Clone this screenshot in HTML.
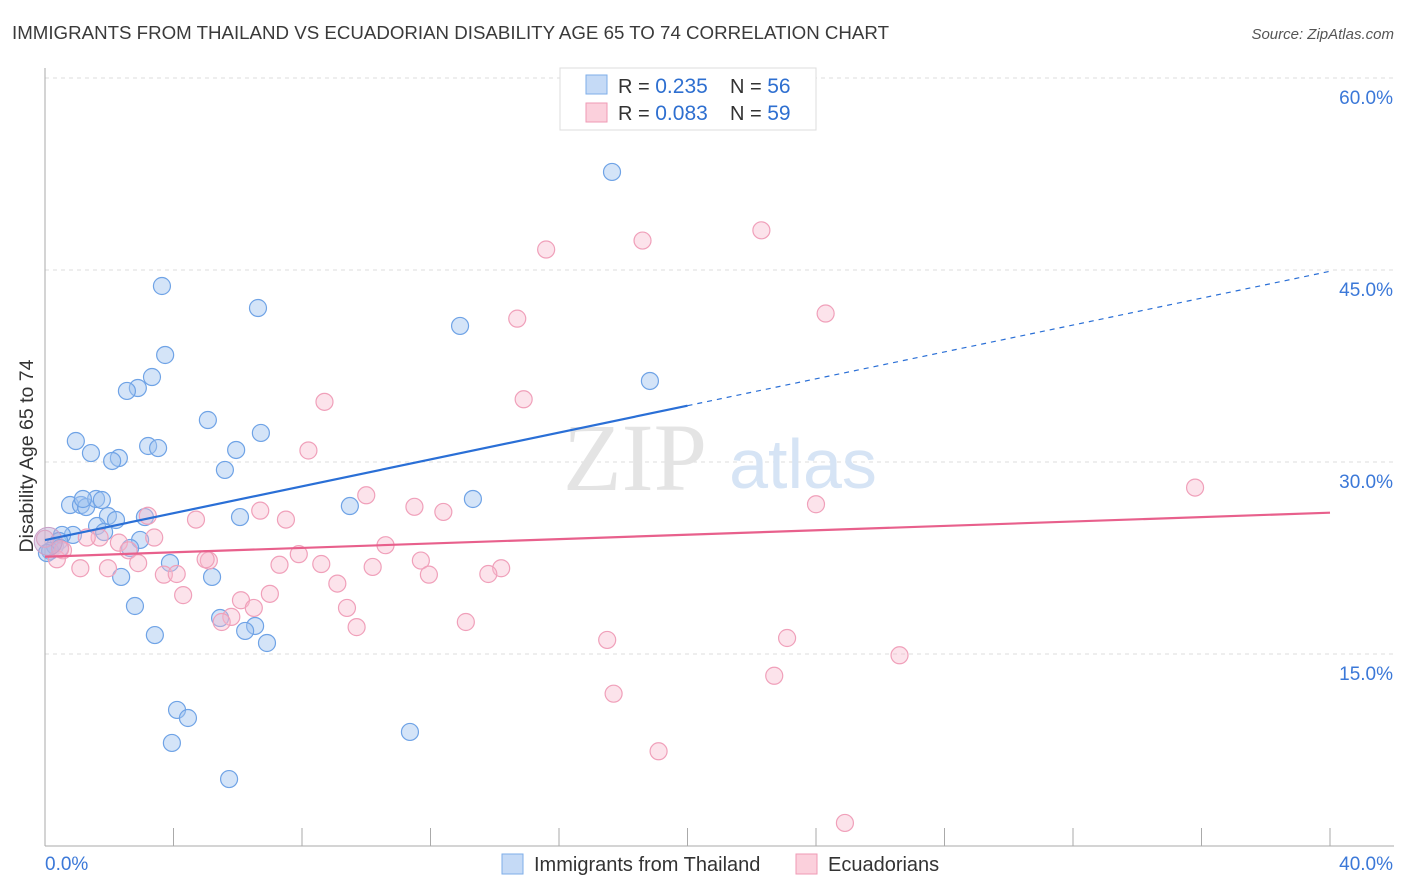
<!DOCTYPE html>
<html><head><meta charset="utf-8"><style>
body{margin:0;background:#fff;font-family:"Liberation Sans",sans-serif;}
svg{display:block}
</style></head><body>
<svg id="chart" width="1406" height="892">
<text x="12" y="39" font-size="18" fill="#3a3a3a" textLength="877" lengthAdjust="spacingAndGlyphs">IMMIGRANTS FROM THAILAND VS ECUADORIAN DISABILITY AGE 65 TO 74 CORRELATION CHART</text>
<text x="1394" y="39" font-size="15" fill="#555" font-style="italic" text-anchor="end">Source: ZipAtlas.com</text>
<text x="33" y="456" font-size="19.5" fill="#333" text-anchor="middle" transform="rotate(-90 33 456)">Disability Age 65 to 74</text>
<g id="grid"></g>
<text x="635" y="490" font-size="96" fill="#e4e4e4" font-family="Liberation Serif,serif" text-anchor="middle">ZIP</text>
<text x="803" y="488" font-size="70" fill="#d6e4f5" text-anchor="middle">atlas</text>
<g id="marks"></g>
<g>
<rect x="560" y="68" width="256" height="62" fill="#fff" stroke="#ddd"/>
<rect x="586" y="75" width="21" height="19" fill="#c5daf6" stroke="#7eaee8"/>
<rect x="586" y="103" width="21" height="19" fill="#fbd0dc" stroke="#ef9ab5"/>
<text x="618" y="93" font-size="20" fill="#333">R = <tspan fill="#2e6fd0" font-size="21">0.235</tspan></text>
<text x="730" y="93" font-size="20" fill="#333">N = <tspan fill="#2e6fd0" font-size="21">56</tspan></text>
<text x="618" y="120" font-size="20" fill="#333">R = <tspan fill="#2e6fd0" font-size="21">0.083</tspan></text>
<text x="730" y="120" font-size="20" fill="#333">N = <tspan fill="#2e6fd0" font-size="21">59</tspan></text>
</g>
<g>
<rect x="502" y="854" width="21" height="20" fill="#c5daf6" stroke="#7eaee8"/>
<text x="534" y="871" font-size="20" fill="#333">Immigrants from Thailand</text>
<rect x="796" y="854" width="21" height="20" fill="#fbd0dc" stroke="#ef9ab5"/>
<text x="828" y="871" font-size="20" fill="#333">Ecuadorians</text>
</g>
</svg>
<script>
const yTicks=[15,30,45,60];
const yTickLabels=["15.0%","30.0%","45.0%","60.0%"];
const xTickLabels=["0.0%","40.0%"];
const blueX=[17.65,3.64,6.63,12.92,3.74,18.83,3.33,2.89,2.55,5.07,0.96,3.21,3.52,5.95,6.72,1.43,2.30,2.09,5.60,0.78,1.12,1.28,1.59,1.77,1.18,13.32,9.49,1.96,2.21,3.11,6.07,1.62,1.84,0.87,0.53,0.44,0.31,0.16,2.96,2.65,3.89,2.37,5.20,2.80,3.42,5.45,6.54,6.23,6.91,4.11,4.45,3.95,11.36,5.73,0.47,0.06];
const blueY=[52.66,43.75,42.03,40.63,38.36,36.33,36.64,35.78,35.55,33.28,31.64,31.25,31.09,30.94,32.27,30.70,30.31,30.08,29.38,26.64,26.64,26.48,27.11,27.03,27.11,27.11,26.56,25.78,25.47,25.70,25.70,25.0,24.53,24.30,24.30,23.83,23.44,23.05,23.91,23.28,22.11,21.02,21.02,18.75,16.48,17.81,17.19,16.80,15.86,10.63,10.0,8.05,8.91,5.23,23.28,22.89];
const pinkX=[15.6,18.6,22.3,14.7,24.3,8.7,14.9,8.2,10.0,11.5,12.4,6.7,7.5,4.7,3.2,24.0,35.8,3.4,2.3,1.7,1.3,2.6,0.56,0.37,10.6,7.9,5.1,5.0,7.3,8.6,10.2,11.7,14.2,13.8,1.1,1.96,2.9,3.7,4.1,11.95,9.1,4.3,6.1,7.0,6.5,9.4,5.8,5.5,9.7,13.1,17.5,23.1,26.6,22.7,17.7,19.1,24.9,0.0,0.47];
const pinkY=[46.6,47.3,48.1,41.2,41.6,34.7,34.9,30.9,27.4,26.5,26.1,26.2,25.5,25.5,25.8,26.7,28.0,24.1,23.7,24.1,24.1,23.1,23.1,22.4,23.5,22.8,22.3,22.4,21.97,22.03,21.8,22.3,21.7,21.25,21.7,21.7,22.1,21.2,21.25,21.2,20.5,19.6,19.2,19.7,18.6,18.6,17.9,17.5,17.1,17.5,16.1,16.25,14.9,13.3,11.9,7.4,1.8,24.0,23.2];
const blueTrend=[23.9,0.525];
const pinkTrend=[22.6,0.086];
const X=v=>45+v*32.125, Y=v=>846-v*12.8;
const NS="http://www.w3.org/2000/svg";
const grid=document.getElementById('grid'), marks=document.getElementById('marks');
function mk(tag,attrs,parent){const e=document.createElementNS(NS,tag);for(const k in attrs)e.setAttribute(k,attrs[k]);parent.appendChild(e);return e;}
yTicks.forEach((t,i)=>{
 const l=mk('line',{x1:45,x2:1394,y1:Y(t),y2:Y(t),stroke:'#ddd','stroke-dasharray':'4,4'},grid);
 
 
 const tx=mk('text',{x:1393,y:Y(t)+26,'font-size':19,fill:'#3b78d8','text-anchor':'end'},grid);
 tx.textContent=yTickLabels[i];
 
 
});
const ax=mk('line',{x1:45,x2:45,y1:68,y2:846,stroke:'#aaa'},grid);


const bx=mk('line',{x1:45,x2:1394,y1:846,y2:846,stroke:'#aaa'},grid);


for(let i=1;i<=10;i++){const t=mk('line',{x1:X(i*4),x2:X(i*4),y1:828,y2:846,stroke:'#aaa'},grid);
 
 }
[[0,'start',45],[1,'end',1393]].forEach(([i,a,x])=>{const t=mk('text',{x:x,y:870,'font-size':19,fill:'#3b78d8','text-anchor':a},grid);t.textContent=xTickLabels[i];
 
 });
blueX.forEach((v,i)=>{const c=mk('circle',{cx:X(v),cy:Y(blueY[i]),r:8.5,fill:'rgba(160,196,240,0.45)',stroke:'#6fa3e6','stroke-width':1.2},marks);
 
 });
pinkX.forEach((v,i)=>{const c=mk('circle',{cx:X(v),cy:Y(pinkY[i]),r:8.5,fill:'rgba(248,185,205,0.4)',stroke:'#f0a0ba','stroke-width':1.2},marks);
 
 });
const big=mk('circle',{cx:X(0.1),cy:Y(23.8),r:14,fill:'rgba(190,170,210,0.45)',stroke:'#c9a0c8'},marks);


const bl=mk('line',{x1:X(0),y1:Y(blueTrend[0]),x2:X(20),y2:Y(blueTrend[0]+20*blueTrend[1]),stroke:'#2a6fd6','stroke-width':2.2},marks);


const bd=mk('line',{x1:X(20),y1:Y(blueTrend[0]+20*blueTrend[1]),x2:X(40),y2:Y(blueTrend[0]+40*blueTrend[1]),stroke:'#2a6fd6','stroke-width':1.2,'stroke-dasharray':'5,5'},marks);


const pl=mk('line',{x1:X(0),y1:Y(pinkTrend[0]),x2:X(40),y2:Y(pinkTrend[0]+40*pinkTrend[1]),stroke:'#e8608c','stroke-width':2.2},marks);


</script>
</body></html>
